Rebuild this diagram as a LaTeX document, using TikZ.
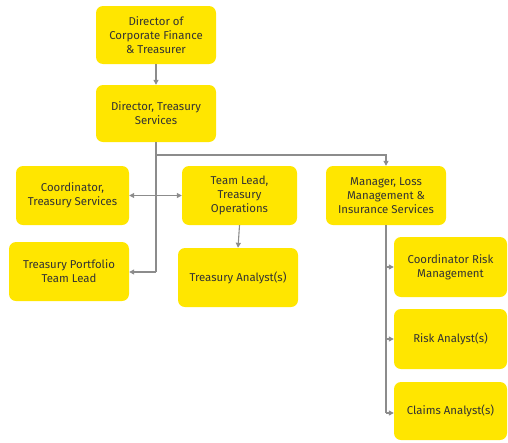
\documentclass[tikz,border=0pt]{standalone}
\usepackage{fontspec}
\setmainfont{Fira Sans}
\usetikzlibrary{arrows.meta}
\definecolor{boxyellow}{HTML}{FFE600}
\definecolor{boxtext}{HTML}{333333}
\definecolor{wire}{HTML}{8C8C8C}
\begin{document}
\begin{tikzpicture}[x=1pt,y=-1pt,
  unit/.style={fill=boxyellow, draw=none, rounded corners=7pt, align=center,
    text=boxtext, font=\fontsize{11.4}{14}\selectfont, inner sep=2pt},
  link/.style={draw=wire, line width=1.1pt},
  arr/.style={link, -{Triangle[length=5pt,width=5pt]}},
  darr/.style={link, {Triangle[length=5pt,width=5pt]}-{Triangle[length=5pt,width=5pt]}}]
\useasboundingbox (0,0) rectangle (508,442);

% boxes
\node[unit, minimum width=120pt, minimum height=58pt] (dcf) at (156,35) {Director of\\Corporate Finance\\\& Treasurer};
\node[unit, minimum width=120pt, minimum height=57pt] (dts) at (156,113.5) {Director, Treasury\\Services};
\node[unit, minimum width=113pt, minimum height=59pt] (cts) at (72.5,195.5) {Coordinator,\\Treasury Services};
\node[unit, minimum width=120pt, minimum height=59pt] (tpl) at (69,271.5) {Treasury Portfolio\\Team Lead};
\node[unit, minimum width=115pt, minimum height=59pt] (tlo) at (239.5,195.5) {Team Lead,\\Treasury\\Operations};
\node[unit, minimum width=120pt, minimum height=59pt] (ta) at (238,277.5) {Treasury Analyst(s)};
\node[unit, minimum width=120pt, minimum height=59pt] (mlm) at (386,195.5) {Manager, Loss\\Management \&\\Insurance Services};
\node[unit, minimum width=113pt, minimum height=60pt] (crm) at (450.5,267) {Coordinator Risk\\Management};
\node[unit, minimum width=113pt, minimum height=60pt] (ra) at (450.5,339) {Risk Analyst(s)};
\node[unit, minimum width=113pt, minimum height=58pt] (ca) at (450.5,411) {Claims Analyst(s)};

% junction points
\coordinate (spine) at (156,155);
\coordinate (spineend) at (156,272);
\coordinate (mgrtop) at (386,155);
\coordinate (mgrend) at (386,413);

% connectors
\draw[arr] (dcf.south) -- (dts.north);
\draw[link] (dts.south) -- (spine) -- (spineend);
\draw[arr] (spineend) -- (tpl.east |- spineend);
\draw[arr] (spine) -- (mgrtop) -- (mlm.north);
\draw[darr] (cts.east) -- (tlo.west);
\draw[arr] (tlo.south) -- (ta.north);
\draw[link] (mlm.south) -- (mgrend);
\draw[arr] (mlm.south |- crm.west) -- (crm.west);
\draw[arr] (mlm.south |- ra.west) -- (ra.west);
\draw[arr] (mgrend) -- (ca.west |- mgrend);
\end{tikzpicture}
\end{document}
